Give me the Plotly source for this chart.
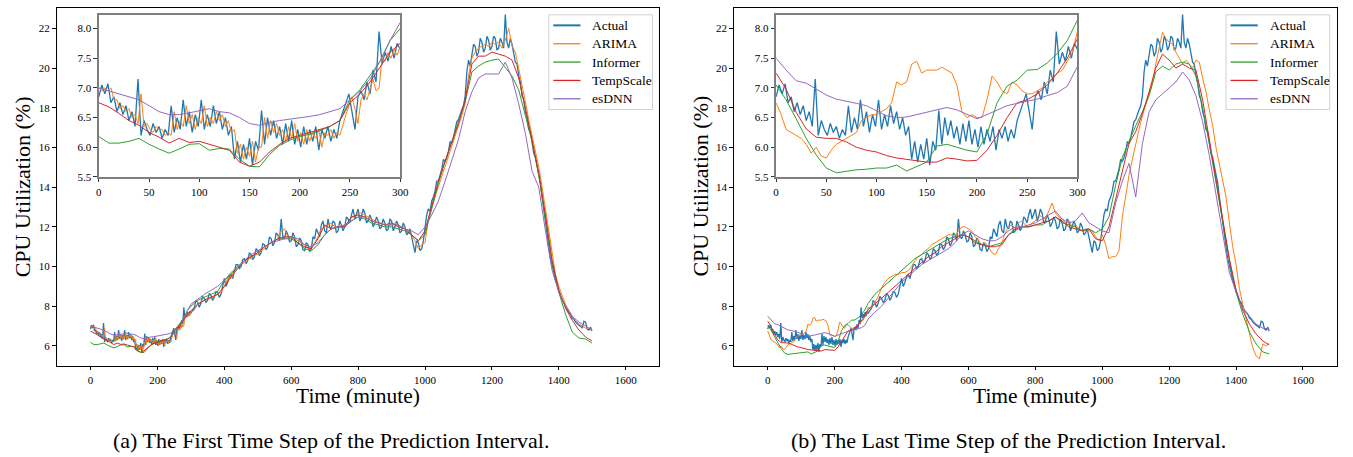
import plotly.graph_objects as go

# ---------------- time grids (minutes) ----------------
T_ACTUAL = list(range(0, 301, 3)) + list(range(305, 1500, 5)) + [1499]
T_NOISY = list(range(0, 301, 3)) + list(range(310, 1500, 10)) + [1499]
T_MID = list(range(0, 301, 5)) + list(range(310, 1500, 10)) + [1499]
T_SMOOTH = list(range(0, 301, 10)) + list(range(320, 1500, 20)) + [1499]

# ---------------- Actual (shared by both panels) ----------------
ACTUAL = [
    6.85, 7.05, 6.9, 7.07, 6.75, 6.85, 6.6, 6.75, 6.55, 6.7,
    6.45, 6.6, 6.35, 7.15, 6.2, 6.45, 6.3, 6.2, 6.4, 6.25,
    6.35, 6.15, 6.3, 6.2, 6.7, 6.25, 6.5, 6.3, 6.8, 6.35,
    6.6, 6.25, 6.55, 6.35, 6.8, 6.3, 6.55, 6.35, 6.7, 6.4,
    6.6, 6.3, 6.5, 6.2, 6.35, 5.8, 6.1, 5.75, 6.05, 5.8,
    6.15, 5.7, 6.1, 5.95, 6.62, 6.05, 6.5, 6.2, 6.45, 6.15,
    6.35, 6.05, 6.4, 6.1, 6.45, 6.05, 6.3, 6.0, 6.35, 6.05,
    6.3, 6.1, 6.35, 5.95, 6.3, 6.15, 6.35, 6.1, 6.3, 6.15,
    6.45, 6.6, 6.75, 6.9, 6.6, 6.3, 6.85, 6.95, 6.8, 7.1,
    6.9, 7.3, 7.1, 7.95, 7.4, 7.6, 7.45, 7.7, 7.5, 7.75,
    7.65,
    7.75, 7.9, 8.3, 8.2, 7.95, 8.15, 8.5, 8.4, 8.2, 8.3,
    8.65, 8.55, 8.3, 8.45, 8.75, 8.7, 8.45, 8.6, 9.0, 9.4,
    9.0, 9.2, 9.5, 9.6, 9.4, 9.8, 10.1, 10.1, 9.9, 10.0,
    10.35, 10.4, 10.15, 10.3, 10.7, 10.6, 10.35, 10.5, 10.9, 10.8,
    10.55, 10.7, 11.15, 11.1, 10.85, 11.0, 11.5, 11.4, 11.05, 11.2,
    11.7, 11.6, 11.3, 12.4, 11.5, 11.4, 11.8, 11.6, 11.25, 11.3,
    11.7, 11.5, 11.0, 11.1, 11.45, 11.3, 10.85, 10.8, 11.2, 11.1,
    10.75, 10.9, 11.5, 11.4, 11.9, 11.7, 11.5, 12.1, 12.3, 11.8,
    11.7, 12.4, 12.0, 11.9, 12.3, 12.2, 11.7, 11.8, 12.3, 12.1,
    11.8, 12.0, 12.5, 12.4, 12.2, 12.6, 12.9, 12.4, 12.7, 12.9,
    12.3, 12.5, 12.9, 12.7, 12.2, 12.3, 12.6, 12.4, 12.0, 12.2,
    12.5, 12.3, 11.9, 12.0, 12.4, 12.2, 11.8, 11.9, 12.4, 12.3,
    11.8, 12.0, 12.3, 12.1, 11.7, 11.8, 12.2, 12.0, 11.6, 11.7,
    11.9, 11.5, 11.2, 10.7, 11.3, 11.2, 10.8, 10.9, 11.3, 12.0,
    12.6, 12.9, 12.8, 13.3, 13.5, 13.8, 14.3, 14.3, 14.6, 14.9,
    15.4, 15.3, 15.5, 15.8, 16.3, 16.2, 16.5, 16.9, 17.3, 17.4,
    17.7, 17.9, 18.1, 18.6, 19.8, 20.4, 20.1, 20.6, 21.2, 21.1,
    20.6, 20.8, 21.5, 21.3, 20.8, 21.0, 21.6, 21.4, 20.9, 21.1,
    21.6, 21.5, 20.9, 21.0, 21.5, 21.3, 21.0, 22.7, 21.3, 21.0,
    21.5, 21.2, 20.8, 20.3, 20.2, 19.6, 19.3, 18.6, 18.4, 17.8,
    17.5, 16.9, 16.8, 16.3, 15.7, 15.5, 15.1, 14.6, 14.2, 13.5,
    12.8, 12.4, 11.6, 11.0, 10.4, 10.1, 9.7, 9.3, 9.1, 8.8,
    8.5, 8.3, 8.2, 8.0, 7.8, 7.7, 7.6, 7.4, 7.35, 7.2,
    7.1, 7.05, 7.0, 6.9, 7.25, 7.2, 6.85, 6.8, 6.95,
    6.75,
]

# ---------------- panel (a): first time step ----------------
ARIMA_A = [
    7.0, 6.95, 7.0, 6.95, 7.0, 6.8, 6.8, 6.65, 6.7, 6.6,
    6.65, 6.5, 6.55, 6.4, 6.9, 6.35, 6.4, 6.3, 6.25, 6.35,
    6.3, 6.3, 6.2, 6.25, 6.2, 6.6, 6.3, 6.45, 6.35, 6.7,
    6.4, 6.55, 6.3, 6.5, 6.4, 6.7, 6.35, 6.5, 6.4, 6.6,
    6.45, 6.55, 6.35, 6.45, 6.25, 6.3, 5.9, 6.05, 5.8, 6.0,
    5.85, 6.1, 5.75, 6.0, 6.0, 6.5, 6.15, 6.45, 6.25, 6.4,
    6.2, 6.3, 6.1, 6.35, 6.15, 6.4, 6.1, 6.25, 6.05, 6.3,
    6.1, 6.25, 6.15, 6.3, 6.0, 6.25, 6.2, 6.3, 6.15, 6.25,
    6.2, 6.4, 6.55, 6.7, 6.85, 6.65, 6.4, 6.8, 6.9, 6.8,
    7.0, 7.15, 6.95, 7.0, 7.5, 7.45, 7.6, 7.5, 7.65, 7.55,
    7.7,
    7.8, 8.1, 8.2, 8.3, 8.4, 8.4, 8.5, 8.6, 8.7, 9.0,
    9.4, 9.4, 9.7, 9.9, 10.1, 10.2, 10.4, 10.4, 10.6, 10.6,
    10.8, 10.9, 11.1, 11.2, 11.3, 11.4, 11.8, 11.9, 11.5, 11.5,
    11.4, 11.3, 11.2, 11.1, 10.9, 11.0, 11.2, 11.5, 11.9, 12.0,
    12.1, 12.2, 12.0, 12.0, 12.0, 12.1, 12.2, 12.5, 12.5, 12.7,
    12.7, 12.6, 12.5, 12.4, 12.3, 12.2, 12.2, 12.1, 12.1, 12.1,
    12.2, 12.0, 12.0, 11.9, 11.8, 11.6, 11.3, 10.9, 11.1, 11.2,
    12.4, 13.0, 13.5, 14.0, 14.6, 15.1, 15.5, 16.0, 16.5, 17.1,
    17.6, 18.2, 19.6, 20.5, 20.8, 21.0, 21.1, 21.2, 21.1, 21.3,
    21.2, 21.3, 21.0, 21.4, 22.0, 21.1, 20.8, 20.0, 19.2, 18.3,
    17.4, 16.6, 15.9, 15.0, 14.0, 12.9, 11.7, 10.6, 9.6, 9.0,
    8.5, 8.1, 7.8, 7.5, 7.3, 7.1, 7.0, 6.9, 6.9,
    6.8,
]

INFORMER_A = [
    6.18, 6.07, 6.07, 6.1, 6.15, 6.05, 5.97, 5.9, 5.97, 6.05,
    6.06, 5.95, 5.98, 5.97, 5.8, 5.68, 5.67, 5.88, 6.03, 6.12,
    6.18, 6.22, 6.28, 6.35, 6.45, 6.8, 6.97, 7.2, 7.45, 7.8,
    8.0,
    8.3, 8.45, 8.6, 8.75, 9.3, 9.6, 10.0, 10.3, 10.5, 10.7,
    11.0, 11.2, 11.4, 11.4, 11.4, 11.2, 10.9, 10.8, 11.1, 11.6,
    11.9, 12.0, 12.0, 12.3, 12.5, 12.4, 12.2, 12.1, 12.0, 12.0,
    11.9, 11.8, 11.6, 11.3, 11.6, 12.9, 14.2, 15.3, 16.3, 17.2,
    18.3, 19.8, 20.1, 20.3, 20.4, 20.45, 20.0, 19.6, 18.9, 17.6,
    16.3, 14.6, 12.5, 10.2, 8.7, 7.6, 6.7, 6.4, 6.35,
    6.15,
]

TEMPSCALE_A = [
    6.75, 6.68, 6.57, 6.45, 6.37, 6.25, 6.17, 6.07, 6.15, 6.08,
    6.1, 6.05, 6.0, 5.95, 5.75, 5.68, 5.75, 5.92, 6.05, 6.15,
    6.2, 6.25, 6.3, 6.35, 6.45, 6.75, 6.9, 7.1, 7.35, 7.6,
    7.75,
    8.1, 8.3, 8.45, 8.6, 9.0, 9.5, 9.9, 10.3, 10.5, 10.7,
    11.0, 11.2, 11.4, 11.5, 11.5, 11.2, 11.0, 10.9, 11.4, 12.1,
    11.9, 12.0, 12.0, 12.5, 12.6, 12.5, 12.3, 12.2, 12.1, 12.2,
    12.0, 11.9, 11.6, 11.3, 11.8, 13.1, 14.3, 15.3, 16.3, 17.2,
    18.4, 20.2, 20.6, 20.6, 20.8, 20.7, 20.6, 20.4, 19.5, 18.0,
    16.4, 14.7, 12.6, 10.3, 8.8, 7.9, 7.3, 6.8, 6.45,
    6.25,
]

ESDNN_A = [
    7.0, 6.95, 6.9, 6.85, 6.8, 6.7, 6.6, 6.55, 6.55, 6.58,
    6.62, 6.65, 6.6, 6.58, 6.5, 6.4, 6.37, 6.42, 6.45, 6.47,
    6.5, 6.52, 6.55, 6.6, 6.65, 6.8, 6.95, 7.15, 7.45, 7.8,
    8.1,
    8.35, 8.6, 8.8, 9.0, 9.3, 9.7, 10.0, 10.3, 10.6, 10.8,
    11.0, 11.2, 11.3, 11.4, 11.5, 11.4, 11.1, 11.0, 11.2, 11.6,
    11.9, 12.0, 12.1, 12.3, 12.5, 12.5, 12.3, 12.2, 12.1, 12.1,
    12.1, 11.9, 11.8, 11.6, 12.0, 12.6, 13.3, 14.3, 15.4, 16.4,
    17.8, 18.8, 19.5, 19.7, 19.7, 19.7, 20.3, 19.5, 18.2, 16.7,
    14.8, 14.0, 11.8, 9.8, 8.7, 8.0, 7.5, 7.2, 7.0,
    6.8,
]

# ---------------- panel (b): last time step ----------------
ARIMA_B = [
    6.75, 6.55, 6.3, 6.25, 6.2, 6.15, 6.05, 5.9, 6.0, 5.85,
    5.82, 5.95, 6.05, 6.1, 6.15, 6.2, 6.25, 6.45, 6.5, 6.55,
    6.55, 6.6, 6.65, 6.75, 7.1, 7.05, 7.1, 7.4, 7.45, 7.25,
    7.3, 7.3, 7.3, 7.35, 7.3, 7.25, 7.05, 6.6, 6.5, 6.55,
    6.5, 6.5, 6.8, 7.2, 7.1, 6.95, 6.9, 7.1, 7.05, 6.95,
    6.9, 6.9, 6.95, 7.0, 7.1, 7.15, 7.25, 7.3, 7.45, 7.6,
    7.95,
    7.9, 8.2, 8.5, 8.9, 9.2, 9.4, 9.5, 9.6, 9.6, 9.7,
    9.7, 9.8, 10.0, 10.3, 10.5, 10.6, 10.8, 10.9, 11.1, 11.2,
    11.3, 11.4, 11.5, 11.6, 11.6, 11.5, 11.8, 12.0, 12.0, 11.9,
    11.8, 11.5, 11.3, 11.1, 11.2, 11.0, 10.7, 10.6, 10.9, 11.2,
    11.7, 12.0, 12.1, 11.9, 12.2, 12.3, 12.1, 12.0, 12.2, 12.3,
    12.6, 12.5, 12.4, 12.8, 13.2, 12.7, 12.5, 12.4, 12.2, 12.3,
    12.0, 12.1, 11.9, 11.8, 11.9, 11.8, 11.8, 11.5, 11.3, 11.6,
    11.1, 10.4, 10.5, 10.5, 10.8, 12.5, 13.6, 14.6, 15.4, 16.2,
    16.9, 17.6, 18.2, 18.7, 19.3, 20.2, 21.0, 21.8, 21.5, 21.3,
    21.2, 20.8, 20.5, 20.2, 20.4, 20.2, 20.0, 20.4, 20.3, 19.5,
    18.8, 17.9, 17.1, 16.0, 15.1, 14.3, 13.5, 12.2, 11.0, 10.1,
    8.9, 8.1, 7.4, 6.6, 5.9, 5.5, 5.35, 6.1, 6.0,
    6.15,
]

INFORMER_B = [
    7.05, 6.8, 6.48, 6.15, 5.87, 5.65, 5.57, 5.6, 5.62, 5.63,
    5.65, 5.65, 5.7, 5.6, 5.68, 5.75, 6.02, 6.05, 6.0, 5.95,
    5.92, 6.22, 6.75, 7.03, 7.13, 7.3, 7.31, 7.42, 7.58, 7.8,
    8.14,
    8.6, 8.9, 9.2, 9.5, 9.8, 10.1, 10.4, 10.6, 10.8, 11.0,
    11.2, 11.4, 11.5, 11.6, 11.5, 11.3, 11.1, 11.0, 11.1, 11.2,
    11.6, 11.8, 12.0, 12.0, 12.1, 12.1, 12.3, 12.5, 12.2, 12.1,
    12.0, 11.8, 11.9, 11.7, 11.9, 12.5, 14.1, 15.5, 16.3, 17.1,
    17.8, 18.6, 19.8, 20.1, 19.9, 20.2, 20.3, 20.2, 19.6, 18.0,
    16.2, 14.3, 12.3, 10.3, 8.7, 7.6, 6.7, 6.1, 5.7,
    5.6,
]

TEMPSCALE_B = [
    7.25, 6.98, 6.59, 6.31, 6.17, 6.15, 6.15, 6.09, 6.0, 5.95,
    5.92, 5.86, 5.82, 5.8, 5.78, 5.75, 5.75, 5.82, 5.8, 5.77,
    5.78, 5.95, 6.2, 6.5, 6.75, 6.8, 6.9, 7.05, 7.25, 7.5,
    7.83,
    8.1, 8.4, 8.7, 9.0, 9.3, 9.6, 9.9, 10.2, 10.5, 10.7,
    11.0, 11.2, 11.4, 11.6, 11.5, 11.2, 11.1, 11.0, 11.0, 11.1,
    11.6, 11.9, 12.0, 12.0, 12.1, 12.2, 12.3, 12.5, 12.3, 12.0,
    11.9, 11.8, 11.9, 11.4, 11.3, 12.0, 13.4, 14.8, 16.2, 16.8,
    17.7, 18.8, 20.0, 20.7, 20.4, 20.0, 20.2, 20.0, 19.9, 18.4,
    16.5, 14.4, 12.4, 10.4, 8.8, 7.8, 7.1, 6.6, 6.25,
    6.05,
]

ESDNN_B = [
    7.5, 7.3, 7.12, 7.08, 6.98, 6.88, 6.81, 6.78, 6.74, 6.7,
    6.62, 6.53, 6.5, 6.51, 6.55, 6.59, 6.63, 6.67, 6.63, 6.55,
    6.48, 6.55, 6.62, 6.7, 6.74, 6.77, 6.81, 6.87, 6.92, 7.03,
    7.36,
    7.7, 8.0, 8.4, 8.8, 9.2, 9.5, 9.8, 10.1, 10.3, 10.5,
    10.7, 10.9, 11.2, 11.6, 11.8, 11.6, 11.4, 11.3, 11.3, 11.5,
    11.8, 12.0, 12.0, 12.1, 12.2, 12.4, 12.6, 12.8, 12.4, 12.2,
    12.3, 12.7, 12.2, 12.0, 11.8, 11.7, 13.2, 14.3, 15.2, 13.5,
    16.2, 17.8, 18.4, 18.7, 19.0, 19.3, 19.8, 19.4, 18.6, 17.3,
    15.6, 13.6, 11.5, 9.7, 8.7, 7.9, 7.5, 7.1, 6.9,
    6.85,
]

SERIES_NAMES = ["Actual", "ARIMA", "Informer", "TempScale", "esDNN"]
COLORS = ["#1f77b4", "#ff7f0e", "#2ca02c", "#d62728", "#9467bd"]
WIDTHS = [1.3, 1.0, 1.0, 1.0, 1.0]

X_TICKS = [0, 200, 400, 600, 800, 1000, 1200, 1400, 1600]
Y_TICKS = [6, 8, 10, 12, 14, 16, 18, 20, 22]
INSET_X_TICKS = [0, 50, 100, 150, 200, 250, 300]
INSET_Y_TICKS = [5.5, 6.0, 6.5, 7.0, 7.5, 8.0]

CAPTIONS = ["(a) The First Time Step of the Prediction Interval.",
            "(b) The Last Time Step of the Prediction Interval."]

panels = [
    [(T_ACTUAL, ACTUAL), (T_NOISY, ARIMA_A), (T_SMOOTH, INFORMER_A),
     (T_SMOOTH, TEMPSCALE_A), (T_SMOOTH, ESDNN_A)],
    [(T_ACTUAL, ACTUAL), (T_MID, ARIMA_B), (T_SMOOTH, INFORMER_B),
     (T_SMOOTH, TEMPSCALE_B), (T_SMOOTH, ESDNN_B)],
]

W, H = 1353, 457
SERIF = "Liberation Serif, Times New Roman, serif"

fig = go.Figure()

axis_ids = [("x", "y", "x2", "y2"), ("x3", "y3", "x4", "y4")]

for p, series in enumerate(panels):
    mx, my, ix, iy = axis_ids[p]
    for k, (tt, vv) in enumerate(series):
        fig.add_trace(go.Scatter(
            x=tt, y=vv, mode="lines", name=SERIES_NAMES[k],
            line=dict(color=COLORS[k], width=WIDTHS[k]),
            xaxis=mx, yaxis=my, showlegend=False, hoverinfo="skip"))
    for k, (tt, vv) in enumerate(series):
        fig.add_trace(go.Scatter(
            x=tt, y=vv, mode="lines", name=SERIES_NAMES[k],
            line=dict(color=COLORS[k], width=WIDTHS[k]),
            xaxis=ix, yaxis=iy, showlegend=False, hoverinfo="skip"))

# pixel geometry
main_left = [54.0, 737.3]
main_w = 608.3
main_top, main_bot = 8.0, 370.7
inset_dx, inset_w = 42.7, 304.0
inset_top, inset_bot = 15.7, 179.3


def px(v):
    return v / W


def py(v):
    return 1 - v / H


tickfont = dict(family=SERIF, size=11, color="black")

main_axis_common = dict(
    showgrid=False, zeroline=False, showline=True, mirror=True,
    linecolor="black", linewidth=1, ticks="outside", ticklen=3.5,
    tickwidth=0.8, tickcolor="black", tickfont=tickfont)
inset_axis_common = dict(
    showgrid=False, zeroline=False, showline=True, mirror=True,
    linecolor="#7f7f7f", linewidth=2, ticks="outside", ticklen=3.5,
    tickwidth=0.8, tickcolor="#333333", tickfont=tickfont)

layout_axes = {}
for p in range(2):
    L = main_left[p]
    n_main = 1 + 2 * p
    n_in = 2 + 2 * p
    sx = "" if n_main == 1 else str(n_main)
    layout_axes[f"xaxis{sx}"] = dict(
        main_axis_common, domain=[px(L), px(L + main_w)],
        range=[-101.6, 1700.7], tickvals=X_TICKS, anchor=f"y{sx}")
    layout_axes[f"yaxis{sx}"] = dict(
        main_axis_common, domain=[py(main_bot), py(main_top)],
        range=[5.0, 23.03], tickvals=Y_TICKS, anchor=f"x{sx}")
    layout_axes[f"xaxis{n_in}"] = dict(
        inset_axis_common,
        domain=[px(L + inset_dx), px(L + inset_dx + inset_w)],
        range=[0, 300], tickvals=INSET_X_TICKS, anchor=f"y{n_in}")
    layout_axes[f"yaxis{n_in}"] = dict(
        inset_axis_common, domain=[py(inset_bot), py(inset_top)],
        range=[5.5, 8.22], tickvals=INSET_Y_TICKS, tickformat=".1f",
        anchor=f"x{n_in}")

annotations = []
shapes = []
for p in range(2):
    L = main_left[p]
    annotations.append(dict(
        text="CPU Utilization (%)", textangle=-90, x=px(L - 34), y=py(189),
        xref="paper", yref="paper", showarrow=False, xanchor="center",
        yanchor="middle", font=dict(family=SERIF, size=22, color="black")))
    annotations.append(dict(
        text="Time (minute)", x=px(L + main_w / 2), y=py(401),
        xref="paper", yref="paper", showarrow=False, xanchor="center",
        yanchor="middle", font=dict(family=SERIF, size=21.5, color="black")))
    annotations.append(dict(
        text=CAPTIONS[p], x=px([331, 1015][p]), y=py(446),
        xref="paper", yref="paper", showarrow=False, xanchor="center",
        yanchor="middle", font=dict(family=SERIF, size=22, color="black")))

    # legend box (matplotlib-style, upper right)
    bx0 = L + 496.7
    bx1 = L + 601.3
    shapes.append(dict(
        type="rect", xref="paper", yref="paper",
        x0=px(bx0), x1=px(bx1), y0=py(111), y1=py(15),
        line=dict(color="#d0d0d0", width=1),
        fillcolor="rgba(255,255,255,0.85)", layer="above"))
    for k, name in enumerate(SERIES_NAMES):
        yy = 25.7 + 18.6 * k
        shapes.append(dict(
            type="line", xref="paper", yref="paper",
            x0=px(bx0 + 4.5), x1=px(bx0 + 32), y0=py(yy), y1=py(yy),
            line=dict(color=COLORS[k], width=2.0 if k == 0 else 1.3),
            layer="above"))
        annotations.append(dict(
            text=name, x=px(bx0 + 42), y=py(yy), xref="paper", yref="paper",
            showarrow=False, xanchor="left", yanchor="middle",
            font=dict(family=SERIF, size=13.5, color="black")))

fig.update_layout(
    width=W, height=H, autosize=False,
    margin=dict(l=0, r=0, t=0, b=0, pad=0),
    paper_bgcolor="white", plot_bgcolor="white",
    showlegend=False,
    annotations=annotations,
    shapes=shapes,
    **layout_axes)

fig.write_html("out.html", config={"displayModeBar": False},
               post_script="document.body.style.margin='0';")
